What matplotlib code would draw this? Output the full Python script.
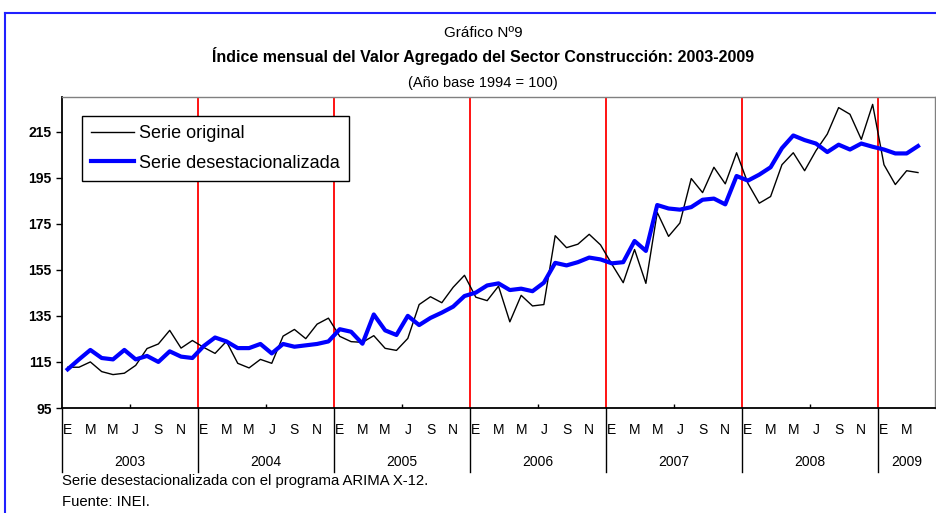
import matplotlib
matplotlib.use("Agg")
import matplotlib.pyplot as plt
from matplotlib.lines import Line2D

plt.rcParams['font.family'] = ['Liberation Sans', 'DejaVu Sans']

# datos mensuales (ene 2003 - abr 2009)
years = ["2003", "2004", "2005", "2006", "2007", "2008", "2009"]
month_letters = ["E", "M", "M", "J", "S", "N"]

serie_original = [
    112.7, 112.7, 115.0, 110.8, 109.5, 110.1, 113.5, 120.8, 122.8, 128.7, 121.0, 124.3,
    121.3, 118.7, 123.9, 114.4, 112.4, 116.1, 114.4, 126.2, 129.1, 125.1, 131.4, 134.0,
    126.1, 123.8, 123.5, 126.4, 120.9, 120.0, 125.2, 139.9, 143.3, 140.7, 147.4, 152.6,
    143.1, 141.6, 147.9, 132.4, 143.9, 139.3, 139.9, 169.8, 164.6, 166.1, 170.4, 165.8,
    157.4, 149.4, 163.8, 149.1, 179.9, 169.5, 175.3, 194.6, 188.5, 199.5, 192.3, 205.8,
    192.5, 183.9, 186.8, 200.6, 205.8, 198.0, 206.7, 213.9, 225.4, 222.5, 211.6, 226.8,
    200.6, 192.0, 198.0, 197.2,
]
serie_desest = [
    111.8, 116.1, 120.2, 116.7, 116.1, 120.2, 116.1, 117.6, 115.0, 119.6, 117.3, 116.7,
    121.9, 125.6, 123.9, 121.0, 121.0, 122.8, 118.7, 122.8, 121.6, 122.2, 122.8, 123.9,
    129.2, 128.1, 122.9, 135.6, 128.7, 126.7, 135.0, 131.0, 134.1, 136.4, 139.0, 143.6,
    145.1, 148.2, 149.1, 146.2, 146.8, 145.7, 149.4, 158.0, 156.9, 158.3, 160.3, 159.5,
    157.8, 158.3, 167.5, 163.2, 183.1, 181.6, 181.1, 182.2, 185.4, 185.9, 183.4, 195.7,
    193.7, 196.3, 199.5, 207.8, 213.3, 211.3, 209.8, 206.1, 209.3, 207.2, 209.8, 208.4,
    207.2, 205.5, 205.5, 208.7,
]
n_cat = 77  # el eje llega hasta mayo 2009

fig = plt.figure(figsize=(9.37, 5.13), dpi=100)
ax = fig.add_axes([62 / 937, 1 - 408 / 513, 873 / 937, 311 / 513])

x = list(range(len(serie_original)))
ax.plot(x, serie_original, color="black", lw=1.0, label="Serie original", zorder=3)
ax.plot(x, serie_desest, color="#0000ff", lw=3.0, label="Serie desestacionalizada", zorder=4)

ax.set_xlim(-0.5, n_cat - 0.5)
ax.set_ylim(95, 230)
ax.set_yticks(range(95, 230, 20))
for lab in ax.get_yticklabels():
    lab.set_fontweight("bold")
ax.tick_params(axis="y", direction="out", length=4.5, width=1, labelsize=10, pad=3)

# eje x: letras de meses, años y separadores
ax.set_xticks([])
mid_year = [12 * k + 5.5 for k in range(6)]
ax.set_xticks(mid_year, minor=True)
ax.tick_params(axis="x", which="minor", direction="in", length=3, width=1)

xt = ax.get_xaxis_transform()
for k, yr in enumerate(years):
    for j, letter in enumerate(month_letters):
        m = 12 * k + 2 * j
        if m < len(serie_original):
            ax.text(m, -0.072, letter, transform=xt, ha="center", va="center", fontsize=10)
    start = 12 * k - 0.5
    end = min(12 * k + 11.5, n_cat - 0.5)
    ax.text((start + end) / 2, -0.174, yr, transform=xt, ha="center", va="center", fontsize=10)
    ax.axvline(start, ymin=-0.206, ymax=0, color="black", lw=1, clip_on=False)
    if k > 0:
        ax.axvline(start, color="red", lw=1.3, zorder=2)

for side in ["top", "right"]:
    ax.spines[side].set_color("#808080")
    ax.spines[side].set_linewidth(1)
for side in ["left", "bottom"]:
    ax.spines[side].set_color("black")
    ax.spines[side].set_linewidth(1.3)

leg = ax.legend(loc="upper left", bbox_to_anchor=(20 / 873, (408 - 116) / 311),
                borderaxespad=0, fancybox=False, edgecolor="black", framealpha=1,
                fontsize=13, handlelength=2.4, handletextpad=0.25, borderpad=0.5,
                labelspacing=0.7)
leg.get_frame().set_linewidth(1.0)

# títulos
xc = 483 / 937
fig.text(xc, 1 - 33 / 513, "Gráfico Nº9", ha="center", va="center", fontsize=11)
fig.text(xc, 1 - 56 / 513, "Índice mensual del Valor Agregado del Sector Construcción: 2003-2009",
         ha="center", va="center", fontsize=11.5, fontweight="bold")
fig.text(xc, 1 - 83 / 513, "(Año base 1994 = 100)", ha="center", va="center", fontsize=10.5)

# notas
fig.text(62 / 937, 1 - 481 / 513, "Serie desestacionalizada con el programa ARIMA X-12.",
         ha="left", va="center", fontsize=10.7)
fig.text(62 / 937, 1 - 502 / 513, "Fuente: INEI.", ha="left", va="center", fontsize=10.7)

# marco azul exterior
fig.add_artist(Line2D([4.5 / 937, 1], [1 - 12.7 / 513, 1 - 12.7 / 513],
                      transform=fig.transFigure, color="#2020ff", lw=1.5))
fig.add_artist(Line2D([4.5 / 937, 4.5 / 937], [0, 1 - 12.7 / 513],
                      transform=fig.transFigure, color="#2020ff", lw=1.5))

fig.savefig("out.png", dpi=100, facecolor="white")
